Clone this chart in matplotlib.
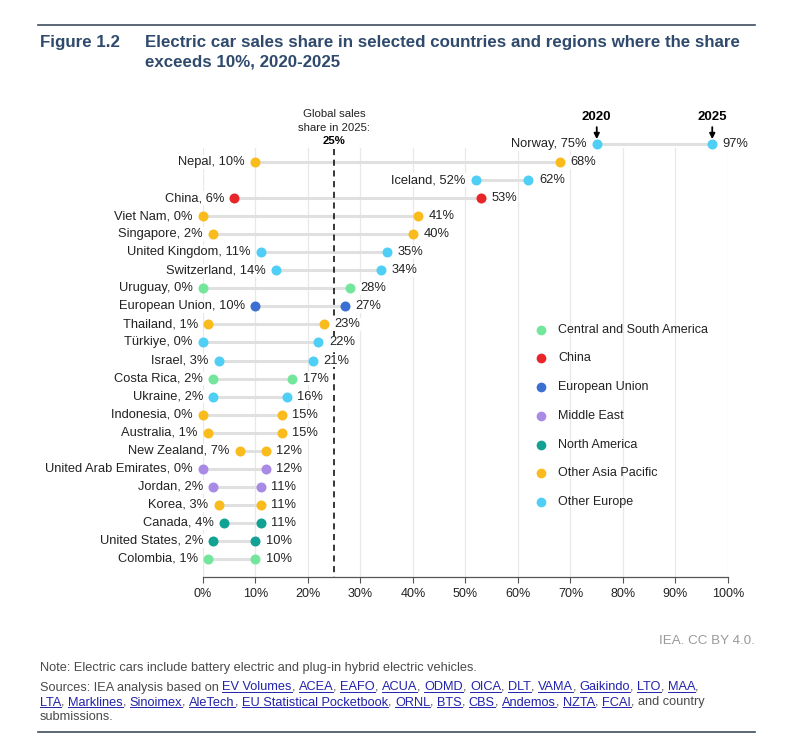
import matplotlib.pyplot as plt
from matplotlib.lines import Line2D

plt.rcParams['font.family'] = ['Liberation Sans', 'DejaVu Sans']

# Data
countries = ["Norway", "Nepal", "Iceland", "China", "Viet Nam", "Singapore",
             "United Kingdom", "Switzerland", "Uruguay", "European Union",
             "Thailand", "Türkiye", "Israel", "Costa Rica", "Ukraine",
             "Indonesia", "Australia", "New Zealand", "United Arab Emirates",
             "Jordan", "Korea", "Canada", "United States", "Colombia"]
share_2020 = [75, 10, 52, 6, 0, 2, 11, 14, 0, 10, 1, 0, 3, 2, 2, 0, 1, 7, 0, 2, 3, 4, 2, 1]
share_2025 = [97, 68, 62, 53, 41, 40, 35, 34, 28, 27, 23, 22, 21, 17, 16, 15, 15, 12, 12, 11, 11, 11, 10, 10]
regions = ["OE", "OAP", "OE", "CN", "OAP", "OAP", "OE", "OE", "CSA", "EU",
           "OAP", "OE", "OE", "CSA", "OE", "OAP", "OAP", "OAP", "ME",
           "ME", "OAP", "NA", "NA", "CSA"]
region_names = {"CSA": "Central and South America", "CN": "China",
                "EU": "European Union", "ME": "Middle East",
                "NA": "North America", "OAP": "Other Asia Pacific",
                "OE": "Other Europe"}
region_colors = {"CSA": "#74E69B", "CN": "#E8262A", "EU": "#3B6FD1",
                 "ME": "#A98BE6", "NA": "#11A293", "OAP": "#F9BC1C",
                 "OE": "#4FCFF5"}
global_share = 25
x_ticks = list(range(0, 101, 10))

fig = plt.figure(figsize=(8, 7.4), dpi=100)
W, H = 800, 740
ax = fig.add_axes([203 / W, 1 - 577 / H, 525 / W, (577 - 135) / H])
ax.set_xlim(0, 100)
ax.set_ylim(24.0, -0.5)

for xt in x_ticks:
    ax.plot([xt, xt], [0.2, 24.0], color="#e8e8e8", lw=0.9, zorder=0)

lbl_box = dict(facecolor="white", edgecolor="none", pad=0.6)
for i, (c, a, b, r) in enumerate(zip(countries, share_2020, share_2025, regions)):
    col = region_colors[r]
    ax.plot([a, b], [i, i], color="#e0e0e0", lw=2.2, solid_capstyle="butt", zorder=1)
    ax.scatter([a, b], [i, i], s=52, color=col, zorder=4, clip_on=False, linewidths=0)
    ax.annotate(f"{c}, {a}%", (a, i), xytext=(-7.5, 0), textcoords="offset points",
                ha="right", va="center", fontsize=9.3, color="#222222", bbox=lbl_box, zorder=5)
    ax.annotate(f"{b}%", (b, i), xytext=(7.5, 0), textcoords="offset points",
                ha="left", va="center", fontsize=9.3, color="#222222", bbox=lbl_box, zorder=5)

# global share line
ax.plot([global_share, global_share], [0.28, 24.0], color="black", lw=1.1,
        ls=(0, (4, 3)), zorder=2, clip_on=False)
ax.text(global_share, -1.66, "Global sales", ha="center", va="center", fontsize=8.2, color="#222222")
ax.text(global_share, -0.9, "share in 2025:", ha="center", va="center", fontsize=8.2, color="#222222")
ax.text(global_share, -0.17, f"{global_share}%", ha="center", va="center", fontsize=8.2,
        fontweight="bold", color="black")

# year markers
for yr, xv in (("2020", share_2020[0]), ("2025", share_2025[0])):
    ax.annotate(yr, xy=(xv, -0.27), xytext=(xv, -1.5), ha="center", va="center",
                fontsize=9.5, fontweight="bold", annotation_clip=False,
                arrowprops=dict(arrowstyle="-|>", color="black", lw=1.3,
                                mutation_scale=8, shrinkA=1, shrinkB=0))

ax.set_yticks([])
ax.set_xticks(x_ticks)
ax.set_xticklabels([f"{t}%" for t in x_ticks], fontsize=9, color="#222222")
ax.tick_params(axis="x", length=4, color="#555555", width=0.8, pad=4)
for s in ("top", "right", "left"):
    ax.spines[s].set_visible(False)
ax.spines["bottom"].set_color("#555555")
ax.spines["bottom"].set_linewidth(0.9)

# legend
leg_y = [330, 358, 387, 416, 445, 473, 502]
for yy, key in zip(leg_y, region_names):
    fig.add_artist(Line2D([541 / W], [1 - yy / H], marker="o", markersize=7,
                          color=region_colors[key], markeredgewidth=0, ls="none"))
    fig.text(558 / W, 1 - yy / H, region_names[key], ha="left", va="center",
             fontsize=9, color="#222222")

# header / footer
title_col = "#2F4A6D"
fig.add_artist(Line2D([38 / W, 755 / W], [1 - 25 / H, 1 - 25 / H], color="#3E4F5F", lw=1.2))
fig.text(40 / W, 1 - 43 / H, "Figure 1.2", fontsize=12.2, fontweight="bold", color=title_col,
         va="center")
fig.text(145 / W, 1 - 43 / H, "Electric car sales share in selected countries and regions where the share",
         fontsize=12.2, fontweight="bold", color=title_col, va="center")
fig.text(145 / W, 1 - 62 / H, "exceeds 10%, 2020-2025", fontsize=12.2, fontweight="bold",
         color=title_col, va="center")

fig.text(755 / W, 1 - 641 / H, "IEA. CC BY 4.0.", ha="right", va="center", fontsize=9.6,
         color="#999999")
fig.text(40 / W, 1 - 671.5 / H, "Note: Electric cars include battery electric and plug-in hybrid electric vehicles.",
         fontsize=9.2, color="#4a4a4a", va="baseline")

link_col = "#2222AA"
src_lines = [
    [("Sources: IEA analysis based on ", False), ("EV Volumes", True), (", ", False), ("ACEA", True),
     (", ", False), ("EAFO", True), (", ", False), ("ACUA", True), (", ", False), ("ODMD", True),
     (", ", False), ("OICA", True), (", ", False), ("DLT", True), (", ", False), ("VAMA", True),
     (", ", False), ("Gaikindo", True), (", ", False), ("LTO", True), (", ", False), ("MAA", True),
     (",", False)],
    [("LTA", True), (", ", False), ("Marklines", True), (", ", False), ("Sinoimex", True), (", ", False),
     ("AleTech", True), (", ", False), ("EU Statistical Pocketbook", True), (", ", False), ("ORNL", True),
     (", ", False), ("BTS", True), (", ", False), ("CBS", True), (", ", False), ("Andemos", True),
     (", ", False), ("NZTA", True), (", ", False), ("FCAI", True), (", and country", False)],
    [("submissions.", False)],
]
renderer = fig.canvas.get_renderer()
for li, parts in enumerate(src_lines):
    base = 690.5 + li * 15
    xx = 40
    for txt, link in parts:
        t = fig.text(xx / W, 1 - base / H, txt, fontsize=9.2, va="baseline",
                     color=link_col if link else "#4a4a4a")
        bb = t.get_window_extent(renderer)
        if link:
            fig.add_artist(Line2D([xx / W, (xx + bb.width) / W], [1 - (base + 1.8) / H] * 2,
                                  color=link_col, lw=0.7))
        xx += bb.width

fig.add_artist(Line2D([38 / W, 755 / W], [1 - 732 / H, 1 - 732 / H], color="#3E4F5F", lw=1.2))

fig.savefig("out.png", dpi=100)
